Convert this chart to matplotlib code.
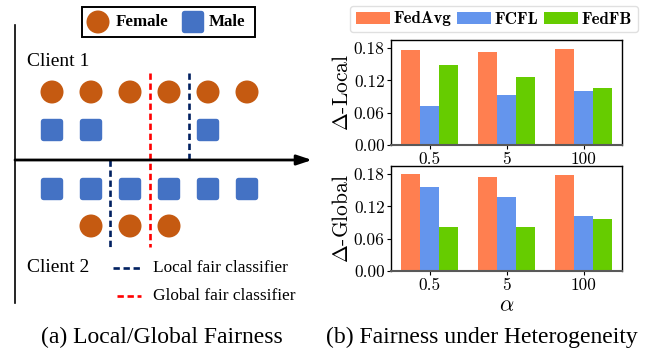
import matplotlib
matplotlib.use('Agg')
import matplotlib.pyplot as plt
import numpy as np
from matplotlib.patches import Circle, FancyBboxPatch, Rectangle

# datos del panel (b)
alphas = ['0.5', '5', '100']
metodos = ['FedAvg', 'FCFL', 'FedFB']
colores = ['#FF7F50', '#6495ED', '#66CC00']
delta_local = {
    'FedAvg': [0.177, 0.172, 0.179],
    'FCFL': [0.072, 0.092, 0.0995],
    'FedFB': [0.148, 0.127, 0.105],
}
delta_global = {
    'FedAvg': [0.180, 0.1746, 0.178],
    'FCFL': [0.156, 0.1366, 0.1023],
    'FedFB': [0.0824, 0.0824, 0.0969],
}
yticks = [0.00, 0.06, 0.12, 0.18]

# datos del panel (a): posiciones por casilla (0..5)
cliente1_mujer = [0, 1, 2, 3, 4, 5]
cliente1_hombre = [0, 1, 4]
cliente2_hombre = [0, 1, 2, 3, 4, 5]
cliente2_mujer = [1, 2, 3]

plt.rcParams['mathtext.fontset'] = 'cm'
plt.rcParams['axes.unicode_minus'] = False

W, H = 652, 352
fig = plt.figure(figsize=(W / 100, H / 100), dpi=100)

# ---------- panel (a) en coordenadas de pixel ----------
ax = fig.add_axes([0, 0, 1, 1])
ax.set_xlim(0, W)
ax.set_ylim(H, 0)
ax.axis('off')

naranja = '#C55A11'
azul = '#4472C4'
serif = 'Liberation Serif'

def slot_x(i):
    return 52 + 39 * i

def circulo(x, y):
    ax.add_patch(Circle((x, y), 11.5, color=naranja, lw=0))

def cuadrado(x, y):
    ax.add_patch(FancyBboxPatch((x - 8, y - 8), 16, 16,
                                boxstyle='round,pad=3.2', color=azul, lw=0))

for i in cliente1_mujer:
    circulo(slot_x(i), 92)
for i in cliente1_hombre:
    cuadrado(slot_x(i), 130)
for i in cliente2_hombre:
    cuadrado(slot_x(i), 189)
for i in cliente2_mujer:
    circulo(slot_x(i), 226)

# ejes del diagrama
ax.plot([15, 15], [25, 303], color='black', lw=1.2)
ax.annotate('', xy=(312, 160), xytext=(15, 160),
            arrowprops=dict(arrowstyle='-|>,head_length=0.9,head_width=0.3',
                            color='black', lw=2, shrinkA=0, shrinkB=0))

# clasificadores
navy = '#002060'
rojo = '#FF0000'
dash = (0, (2.4, 1.4))
ax.plot([150, 150], [73, 247], color=rojo, lw=1.9, ls=dash)
ax.plot([189, 189], [73, 160], color=navy, lw=1.9, ls=dash)
ax.plot([110, 110], [160, 248], color=navy, lw=1.9, ls=dash)

ax.text(27, 62, 'Client 1', fontsize=14, family=serif, va='center', ha='left')
ax.text(27, 268, 'Client 2', fontsize=14, family=serif, va='center', ha='left')

ax.plot([113, 141], [268, 268], color=navy, lw=1.9, ls=dash)
ax.plot([117, 141], [296, 296], color=rojo, lw=1.9, ls=dash)
ax.text(153, 268, 'Local fair classifier', fontsize=12.4, family=serif, va='center')
ax.text(153, 296, 'Global fair classifier', fontsize=12.4, family=serif, va='center')

# leyenda del diagrama
ax.add_patch(Rectangle((82, 7), 173, 30, fill=False, ec='black', lw=1.4))
circulo(98, 22)
cuadrado(193, 22)
ax.text(116, 22, 'Female', fontsize=12.2, family=serif, weight='bold', va='center')
ax.text(209, 22, 'Male', fontsize=12.2, family=serif, weight='bold', va='center')

# subtitulos
ax.text(162, 337, '(a) Local/Global Fairness', fontsize=17, family=serif,
        ha='center', va='center')
ax.text(482, 337, '(b) Fairness under Heterogeneity', fontsize=17, family=serif,
        ha='center', va='center')

# ---------- panel (b) ----------
def rect_px(x0, x1, y0, y1):
    return [x0 / W, (H - y1) / H, (x1 - x0) / W, (y1 - y0) / H]

ax1 = fig.add_axes(rect_px(391, 622, 40, 145))
ax2 = fig.add_axes(rect_px(391, 622, 166, 271))

x = np.arange(len(alphas))
ancho = 0.25
handles = []
for axb, datos, etiqueta in [(ax1, delta_local, r'$\Delta$-Local'),
                             (ax2, delta_global, r'$\Delta$-Global')]:
    for k, m in enumerate(metodos):
        b = axb.bar(x + (k - 1) * ancho, datos[m], ancho, color=colores[k], label=m)
        if axb is ax1:
            handles.append(b)
    axb.set_xlim(-0.5, 2.5)
    axb.set_ylim(0, 0.195)
    axb.set_yticks(yticks)
    axb.set_yticklabels([f'{v:.2f}' for v in yticks], family='cmr10', fontsize=12.5)
    axb.set_xticks(x)
    axb.set_xticklabels(alphas, family='cmr10', fontsize=12.5)
    axb.tick_params(length=3, width=0.8, pad=1.5)
    axb.set_ylabel(etiqueta, family='cmr10', fontsize=15.5, labelpad=1)
    for s in ['top', 'right', 'left']:
        axb.spines[s].set_linewidth(1.0)
    axb.spines['bottom'].set_color('0.35')
    axb.spines['bottom'].set_linewidth(1.5)

ax2.set_xlabel(r'$\alpha$', fontsize=16, labelpad=2)

leg = fig.legend(handles, metodos, loc='center', ncol=3,
                 bbox_to_anchor=(494 / W, 1 - 19 / H),
                 prop={'family': 'cmb10', 'size': 12.2},
                 handlelength=2.0, handleheight=0.7, columnspacing=0.3,
                 handletextpad=0.25, borderpad=0.35, frameon=True, fancybox=True)
leg.get_frame().set_edgecolor('0.85')

fig.savefig('out.png', dpi=100)
